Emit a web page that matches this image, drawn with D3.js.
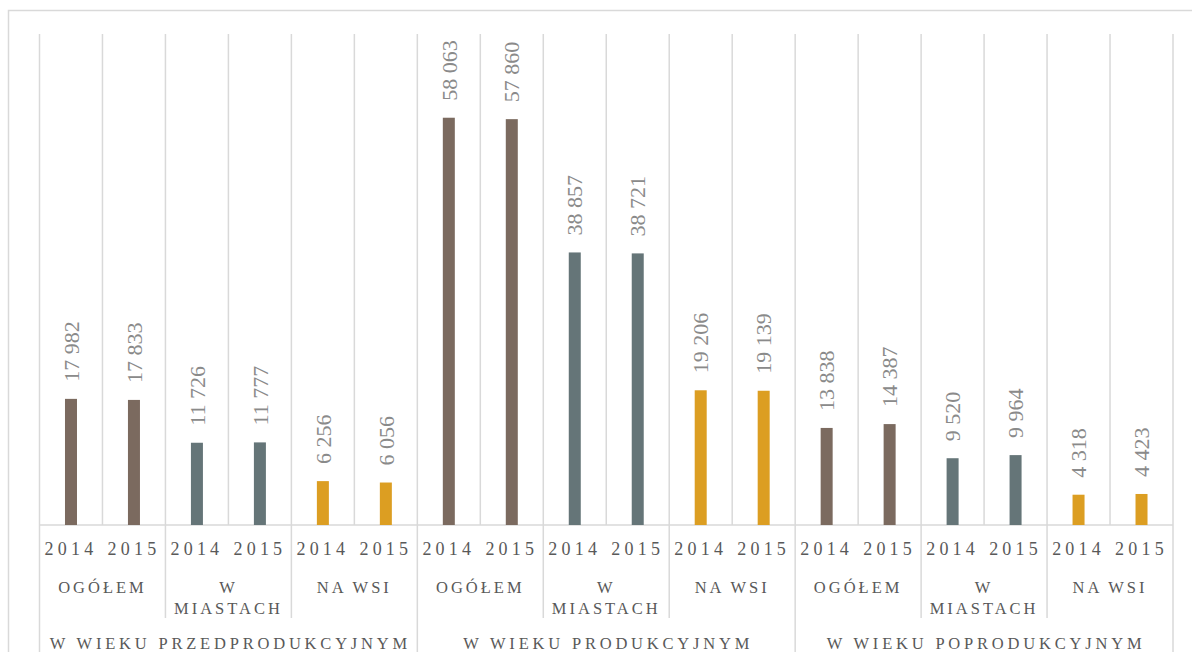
<!DOCTYPE html>
<html>
<head>
<meta charset="utf-8">
<script src="https://cdn.jsdelivr.net/npm/d3@7"></script>
<style>
  body { margin: 0; background: #fff; }
  svg text { font-family: "Liberation Serif", "DejaVu Serif", serif; }
</style>
</head>
<body>
<svg id="chart"></svg>
<script>
// data
const years = ['2014', '2015'];
const areas = ['OGÓŁEM', 'W MIASTACH', 'NA WSI'];
const ageGroups = ['W WIEKU PRZEDPRODUKCYJNYM', 'W WIEKU PRODUKCYJNYM', 'W WIEKU POPRODUKCYJNYM'];
// per age group: ogółem 2014, 2015, miasta 2014, 2015, wieś 2014, 2015
const preWorkingAge = [17982, 17833, 11726, 11777, 6256, 6056];
const workingAge = [58063, 57860, 38857, 38721, 19206, 19139];
const postWorkingAge = [13838, 14387, 9520, 9964, 4318, 4423];
const areaColors = ['#7b6a5f', '#657578', '#dc9e22'];

class groupedBarchart {

  constructor(_config) {
    this.config = {
      parentElement: _config.parentElement,
      containerWidth: _config.containerWidth || 1192,
      containerHeight: _config.containerHeight || 652,
      margin: _config.margin || {top: 34, right: 19, bottom: 127, left: 39.5}
    }
    this.initVis();
  }

  initVis() {
    let vis = this;

    // flatten into one row per bar
    vis.data = [];
    [preWorkingAge, workingAge, postWorkingAge].forEach((values, g) => {
      values.forEach((v, k) => {
        vis.data.push({
          key: `${g}-${k}`,
          group: g,
          area: Math.floor(k / 2),
          year: years[k % 2],
          value: v
        });
      });
    });

    vis.width = vis.config.containerWidth - vis.config.margin.left - vis.config.margin.right;
    vis.height = vis.config.containerHeight - vis.config.margin.top - vis.config.margin.bottom;

    vis.xScale = d3.scaleBand()
        .domain(vis.data.map(d => d.key))
        .range([0, vis.width]);

    vis.yScale = d3.scaleLinear()
        .domain([0, 70000])
        .range([vis.height, 0]);

    vis.format = d3.formatLocale({decimal: ',', thousands: '\u00a0', grouping: [3], currency: ['', '']}).format(',d');

    vis.svg = d3.select(vis.config.parentElement)
        .attr('width', vis.config.containerWidth)
        .attr('height', vis.config.containerHeight);

    // outer chart frame
    vis.svg.append('rect')
        .attr('x', 8.5)
        .attr('y', 10.5)
        .attr('width', vis.config.containerWidth + 10)
        .attr('height', vis.config.containerHeight + 10)
        .attr('fill', 'none')
        .attr('stroke', '#d9d9d9')
        .attr('stroke-width', 1.5);

    vis.chart = vis.svg.append('g')
        .attr('transform', `translate(${vis.config.margin.left},${vis.config.margin.top})`);

    vis.renderVis();
  }

  renderVis() {
    let vis = this;
    const step = vis.xScale.step();
    const barWidth = 12;

    // vertical separators, deeper for higher level groups
    const bounds = d3.range(vis.data.length + 1);
    vis.chart.selectAll('.sep')
        .data(bounds)
      .join('line')
        .attr('class', 'sep')
        .attr('x1', i => i * step)
        .attr('x2', i => i * step)
        .attr('y1', 0)
        .attr('y2', i => {
          if (i % 6 === 0) return vis.config.containerHeight;
          if (i % 2 === 0) return vis.height + 93;
          return vis.height;
        })
        .attr('stroke', '#d9d9d9')
        .attr('stroke-width', 1.5);

    // category axis line
    vis.chart.append('line')
        .attr('x1', 0)
        .attr('x2', vis.width)
        .attr('y1', vis.height)
        .attr('y2', vis.height)
        .attr('stroke', '#d9d9d9')
        .attr('stroke-width', 1.5);

    vis.chart.selectAll('.bar')
        .data(vis.data)
      .join('rect')
        .attr('class', 'bar')
        .attr('x', d => vis.xScale(d.key) + (step - barWidth) / 2)
        .attr('y', d => vis.yScale(d.value))
        .attr('width', barWidth)
        .attr('height', d => vis.height - vis.yScale(d.value))
        .attr('fill', d => areaColors[d.area]);

    // rotated value labels
    vis.chart.selectAll('.value')
        .data(vis.data)
      .join('text')
        .attr('class', 'value')
        .attr('transform', d => `translate(${vis.xScale(d.key) + step / 2},${vis.yScale(d.value) - 17}) rotate(-90)`)
        .attr('dy', '0.35em')
        .attr('fill', '#8a8a8a')
        .style('font-size', '22px')
        .text(d => vis.format(d.value));

    // level 1: years
    vis.chart.selectAll('.year')
        .data(vis.data)
      .join('text')
        .attr('class', 'year')
        .attr('x', d => vis.xScale(d.key) + step / 2)
        .attr('y', vis.height + 30)
        .attr('text-anchor', 'middle')
        .attr('fill', '#595959')
        .style('font-size', '18px')
        .style('letter-spacing', '4.2px')
        .text(d => d.year);

    // level 2: area, wrapped on spaces when too long
    const areaCells = [];
    ageGroups.forEach((g, gi) => areas.forEach((a, ai) => areaCells.push({label: a, idx: gi * 3 + ai})));
    vis.chart.selectAll('.area')
        .data(areaCells)
      .join('text')
        .attr('class', 'area')
        .attr('y', vis.height + 68)
        .attr('text-anchor', 'middle')
        .attr('fill', '#595959')
        .style('font-size', '16.5px')
        .style('letter-spacing', '3px')
        .each(function(d) {
          const words = d.label.length > 8 ? d.label.split(' ') : [d.label];
          d3.select(this).selectAll('tspan')
              .data(words)
            .join('tspan')
              .attr('x', (d.idx * 2 + 1) * step)
              .attr('dy', (w, i) => i === 0 ? 0 : 21)
              .text(w => w);
        });

    // level 3: age groups
    vis.chart.selectAll('.age')
        .data(ageGroups)
      .join('text')
        .attr('class', 'age')
        .attr('x', (d, i) => (i * 6 + 3) * step + 2)
        .attr('y', vis.height + 124)
        .attr('text-anchor', 'middle')
        .attr('fill', '#595959')
        .style('font-size', '16.5px')
        .style('letter-spacing', '3.8px')
        .text(d => d);
  }
}

new groupedBarchart({parentElement: '#chart'});
</script>
</body>
</html>
